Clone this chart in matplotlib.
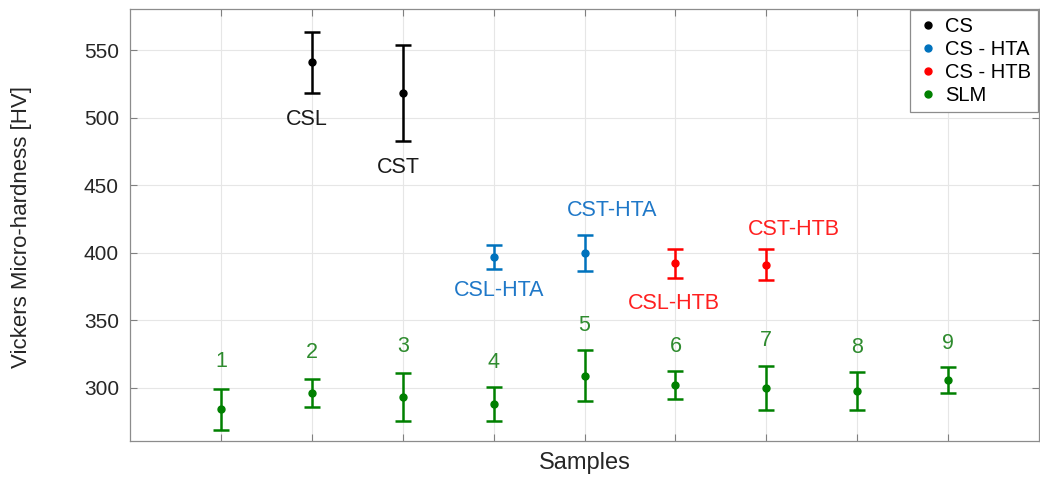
import matplotlib
matplotlib.use("Agg")
import matplotlib.pyplot as plt

plt.rcParams['font.family'] = ['Liberation Sans', 'DejaVu Sans']

# Data
cs_x = [2, 3]
cs_y = [541, 518]
cs_err = [22.5, 35.5]
cs_labels = ["CSL", "CST"]

hta_x = [4, 5]
hta_y = [397, 400]
hta_err = [8.8, 13.4]
hta_labels = ["CSL-HTA", "CST-HTA"]

htb_x = [6, 7]
htb_y = [392, 391]
htb_err = [11, 11.5]
htb_labels = ["CSL-HTB", "CST-HTB"]

slm_x = [1, 2, 3, 4, 5, 6, 7, 8, 9]
slm_y = [284, 296, 293, 288, 309, 302, 300, 297.5, 306]
slm_err = [15, 10.3, 17.6, 12.7, 18.8, 10.5, 16.4, 14.3, 9.6]
slm_labels = ["1", "2", "3", "4", "5", "6", "7", "8", "9"]

yticks = [300, 350, 400, 450, 500, 550]

# label positions (annotation placement)
cs_lab_pos = [(1.95, 499), (2.95, 463)]
hta_lab_pos = [(4.06, 372), (5.3, 431)]
htb_lab_pos = [(5.98, 362.5), (7.3, 417)]
slm_lab_y = [319.3, 326, 330.5, 318.6, 346, 330.5, 335, 329.8, 332.7]

fig = plt.figure(figsize=(10.4, 4.78), dpi=100)
ax = fig.add_axes([130/1040, 1-441/478, (1039-130)/1040, (441-9)/478])

c_cs = '#000000'
c_hta = '#0072BD'
c_htb = '#FF0000'
c_slm = '#008000'

FS = 15.5

series = [
    (cs_x, cs_y, cs_err, c_cs, 'CS', cs_labels, cs_lab_pos, '#1a1a1a'),
    (hta_x, hta_y, hta_err, c_hta, 'CS - HTA', hta_labels, hta_lab_pos, '#1f78c8'),
    (htb_x, htb_y, htb_err, c_htb, 'CS - HTB', htb_labels, htb_lab_pos, '#ff2020'),
]
for x, y, e, c, name, labs, pos, tc in series:
    ax.errorbar(x, y, yerr=e, fmt='o', color=c, ms=5, elinewidth=1.8,
                capsize=5.5, capthick=1.8, label=name, zorder=3)
    for lab, (px, py) in zip(labs, pos):
        ax.text(px, py, lab, color=tc, fontsize=FS, ha='center', va='center')

ax.errorbar(slm_x, slm_y, yerr=slm_err, fmt='o', color=c_slm, ms=5, elinewidth=1.8,
            capsize=5.5, capthick=1.8, label='SLM', zorder=3)
for x, lab, py in zip(slm_x, slm_labels, slm_lab_y):
    ax.text(x, py, lab, color='#2e8b2e', fontsize=FS, ha='center', va='center')

ax.set_xlim(0, 10)
ax.set_ylim(260.5, 580.5)
ax.set_xticks(slm_x)
ax.set_xticklabels([])
ax.set_yticks(yticks)
ax.tick_params(axis='y', labelsize=15, labelcolor='#262626', direction='in',
               right=True, color='#808080', length=5, pad=8)
ax.tick_params(axis='x', direction='in', top=True, color='#808080', length=5)
ax.grid(True, color='#e6e6e6', linewidth=0.8)
ax.set_axisbelow(True)
for s in ax.spines.values():
    s.set_color('#8c8c8c')
    s.set_linewidth(0.9)

ax.set_xlabel('Samples', fontsize=17, color='#262626')
ax.xaxis.set_label_coords((585-130)/909, -(463-441)/432)
ax.xaxis.label.set_va('center')
ax.set_ylabel('Vickers Micro-hardness [HV]', fontsize=16, color='#262626')
ax.yaxis.set_label_coords(-(130-22)/909, (441-227)/432)
ax.yaxis.label.set_va('center')

# legend with dot markers only
handles = [
    plt.Line2D([], [], marker='o', linestyle='none', color=c, ms=5)
    for c in [c_cs, c_hta, c_htb, c_slm]
]
leg = ax.legend(handles, ['CS', 'CS - HTA', 'CS - HTB', 'SLM'], loc='upper right',
                fontsize=14.5, frameon=True, fancybox=False, framealpha=1,
                edgecolor='#8c8c8c', borderaxespad=0.05, handletextpad=0.3,
                labelspacing=0.2, borderpad=0.35, handlelength=1.1)
leg.get_frame().set_linewidth(0.9)

fig.savefig('out.png', dpi=100)
